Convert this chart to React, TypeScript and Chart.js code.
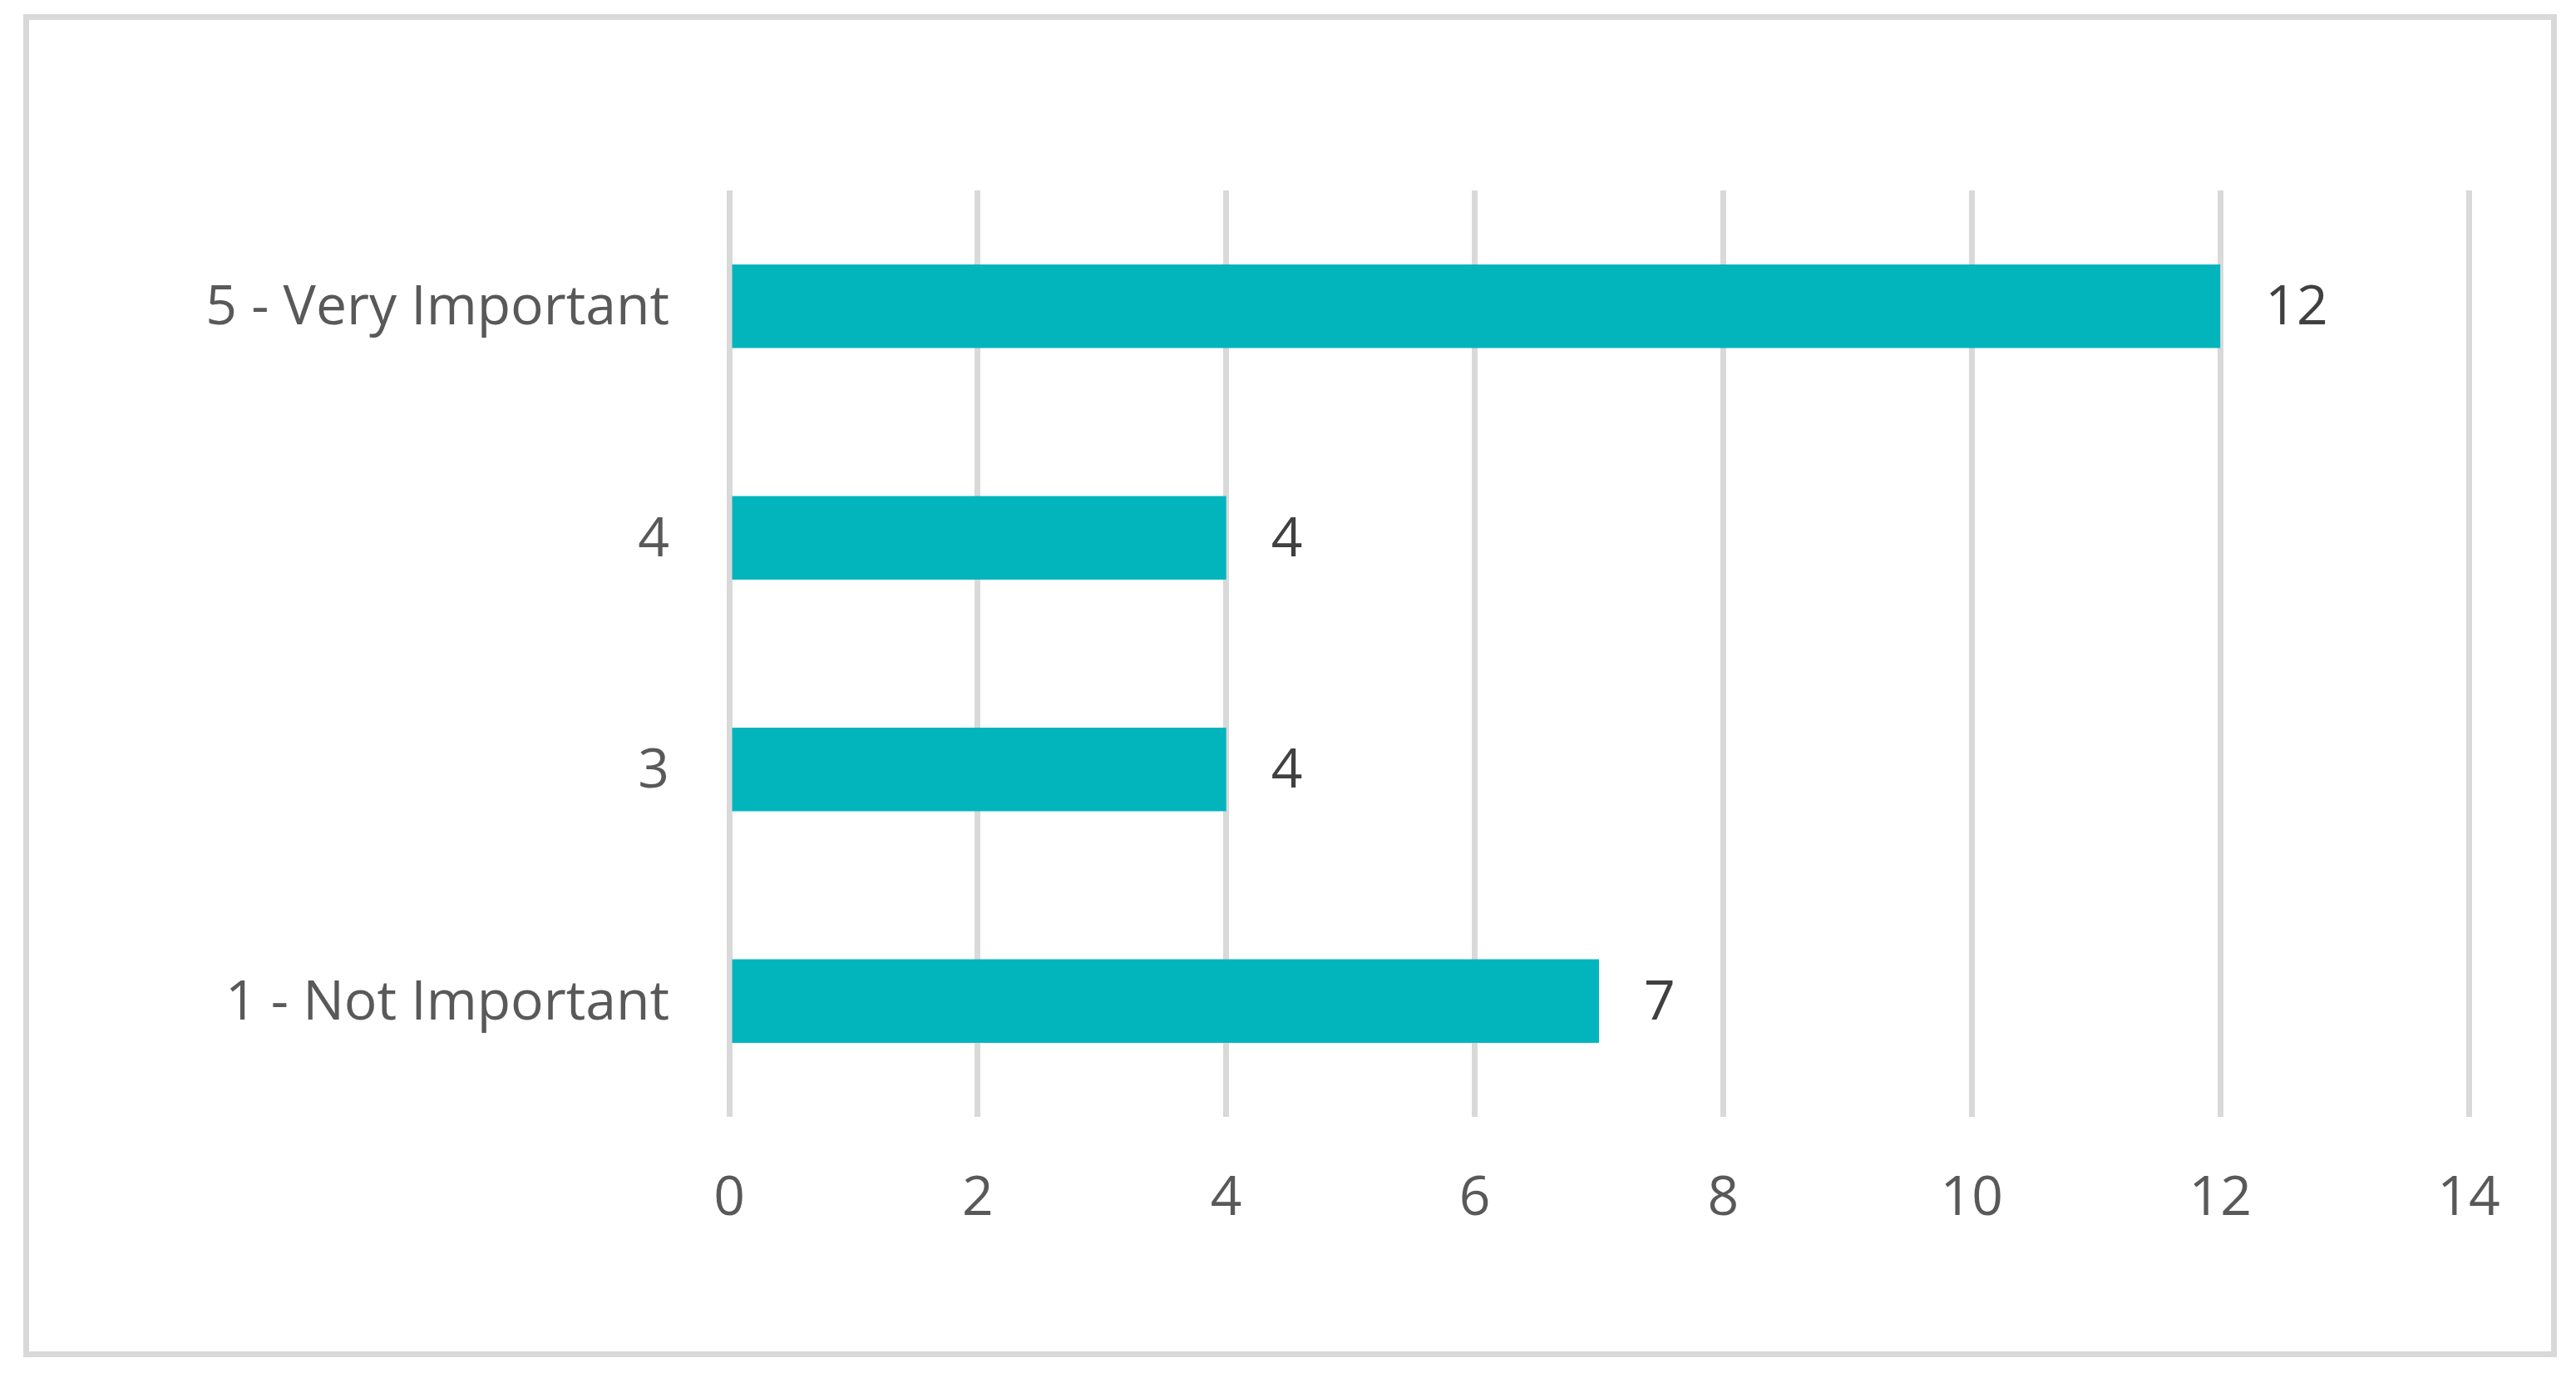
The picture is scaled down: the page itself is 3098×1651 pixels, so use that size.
import { useEffect, useRef } from "react";
import Chart from "chart.js/auto";

const categories = ["5 - Very Important", "4", "3", "1 - Not Important"];
const counts = [12, 4, 4, 7];
const axisMin = 0;
const axisMax = 14;
const axisStep = 2;

const FONT = '"Open Sans", "Noto Sans", sans-serif';
const FONT_SIZE = 66;

const valueLabels = {
  id: "valueLabels",
  afterDatasetsDraw(chart: any) {
    const { ctx } = chart;
    const meta = chart.getDatasetMeta(0);
    ctx.save();
    ctx.font = `${FONT_SIZE}px ${FONT}`;
    ctx.fillStyle = "#404040";
    ctx.textAlign = "left";
    ctx.textBaseline = "middle";
    meta.data.forEach((bar: any, i: number) => {
      ctx.fillText(String(counts[i]), bar.x + 54, bar.y + 3);
    });
    ctx.restore();
  },
};

export default function App() {
  const canvasRef = useRef<HTMLCanvasElement | null>(null);
  const chartRef = useRef<Chart | null>(null);

  useEffect(() => {
    if (chartRef.current) chartRef.current.destroy();
    const ctx = canvasRef.current!.getContext("2d")!;

    chartRef.current = new Chart(ctx, {
      type: "bar",
      data: {
        labels: categories,
        datasets: [
          {
            data: counts,
            backgroundColor: "#02b5bd",
            barPercentage: 0.36,
            categoryPercentage: 1,
          },
        ],
      },
      options: {
        indexAxis: "y",
        responsive: false,
        animation: false,
        layout: { padding: { top: 229, right: 129, bottom: 0, left: 0 } },
        plugins: {
          legend: { display: false },
          tooltip: { enabled: false },
        },
        scales: {
          x: {
            min: axisMin,
            max: axisMax,
            ticks: {
              stepSize: axisStep,
              padding: 60,
              color: "#595959",
              font: { family: FONT, size: FONT_SIZE },
            },
            grid: { color: "#d9d9d9", lineWidth: 7, drawTicks: false },
            border: { display: false },
            afterFit: (scale: any) => {
              scale.height = 308;
            },
          },
          y: {
            ticks: {
              padding: 72,
              labelOffset: 3,
              color: "#595959",
              font: { family: FONT, size: FONT_SIZE },
            },
            grid: { display: false, drawTicks: false },
            border: { display: false },
            afterFit: (scale: any) => {
              scale.width = 877;
            },
          },
        },
      },
      plugins: [valueLabels],
    });

    return () => {
      if (chartRef.current) {
        chartRef.current.destroy();
        chartRef.current = null;
      }
    };
  }, []);

  return (
    <div style={{ position: "fixed", left: 0, top: 0, width: 3098, height: 1651, background: "#fff" }}>
      <div
        style={{
          position: "absolute",
          left: 28,
          top: 17,
          width: 3047,
          height: 1615,
          boxSizing: "border-box",
          border: "7px solid #d9d9d9",
        }}
      />
      <canvas
        ref={canvasRef}
        width={3098}
        height={1651}
        style={{ position: "absolute", left: 0, top: 0, width: 3098, height: 1651 }}
      />
    </div>
  );
}
